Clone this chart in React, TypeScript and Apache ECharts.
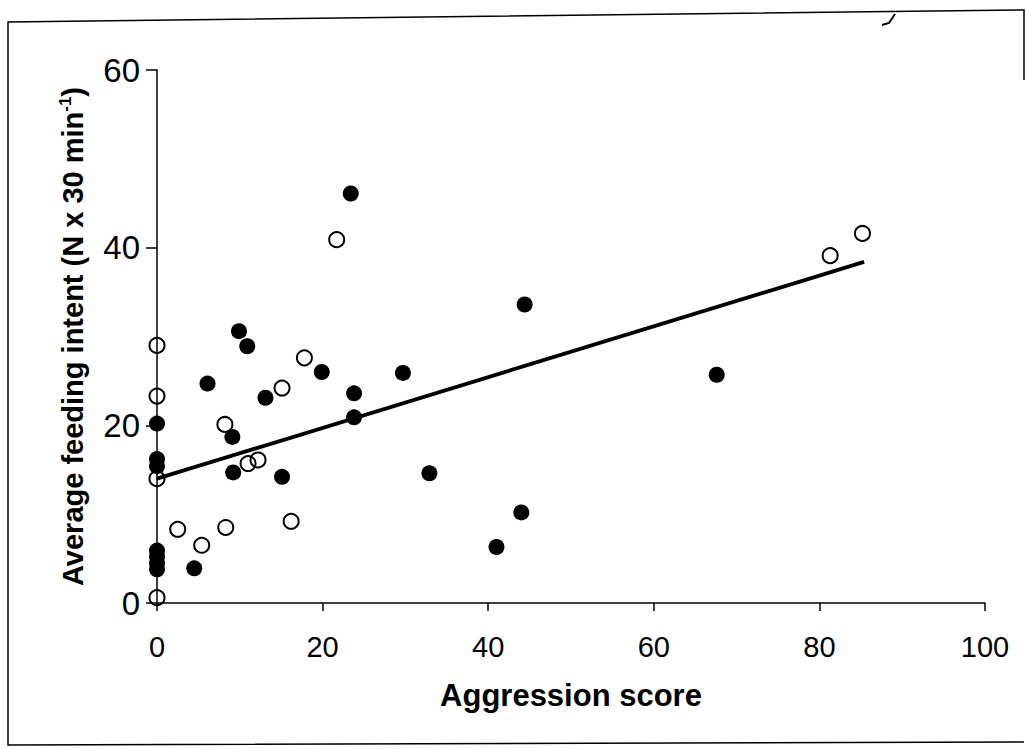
import React, { useEffect, useRef } from "react";
import * as echarts from "echarts";

// Open circles (one group)
const openX = [0, 0, 0, 0, 17.8, 15.1, 8.2, 11.0, 12.2, 16.2, 2.5, 8.3, 5.4, 21.7, 81.3, 85.2];
const openY = [29.0, 23.3, 14.0, 0.6, 27.6, 24.2, 20.1, 15.7, 16.1, 9.2, 8.3, 8.5, 6.5, 40.9, 39.1, 41.6];

// Filled circles (other group)
const filledX = [0, 0, 0, 0, 0, 0, 0, 9.9, 10.9, 19.9, 29.7, 6.1, 13.1, 23.8, 23.8, 9.1, 9.2, 15.1, 32.9, 44.0, 41.0, 4.5, 23.4, 44.4, 67.6];
const filledY = [20.2, 16.2, 15.4, 5.9, 5.2, 4.5, 3.8, 30.6, 28.9, 26.0, 25.9, 24.7, 23.1, 23.6, 20.9, 18.7, 14.7, 14.2, 14.6, 10.2, 6.3, 3.9, 46.1, 33.6, 25.7];

// Regression line endpoints
const fitX = [0, 85.4];
const fitY = [14.0, 38.4];

const xTicks = [0, 20, 40, 60, 80, 100];
const yTicks = [0, 20, 40, 60];

const FONT = "'Liberation Sans', Arial, Helvetica, sans-serif";

export default function App() {
  const ref = useRef<HTMLDivElement>(null);

  useEffect(() => {
    if (!ref.current) return;
    const chart = echarts.init(ref.current, null, { renderer: "svg" });
    const zip = (xs: number[], ys: number[]) => xs.map((x, i) => [x, ys[i]]);
    chart.setOption({
      animation: false,
      backgroundColor: "#ffffff",
      grid: { left: 157, right: 41, top: 70, bottom: 146, containLabel: false },
      xAxis: {
        type: "value",
        min: xTicks[0],
        max: xTicks[xTicks.length - 1],
        interval: 20,
        name: "Aggression score",
        nameLocation: "middle",
        nameGap: 77,
        nameTextStyle: { fontFamily: FONT, fontSize: 31, fontWeight: "bold", color: "#000" },
        axisLine: { show: true, onZero: false, lineStyle: { color: "#000", width: 1.5 } },
        axisTick: { show: true, length: 8, lineStyle: { color: "#000", width: 1.5 } },
        axisLabel: { fontFamily: FONT, fontSize: 29, color: "#000", margin: 29 },
        splitLine: { show: false },
      },
      yAxis: {
        type: "value",
        min: yTicks[0],
        max: yTicks[yTicks.length - 1],
        interval: 20,
        name: "Average feeding intent (N x 30 min{sup|-1})",
        nameLocation: "middle",
        nameGap: 69,
        nameTextStyle: {
          fontFamily: FONT,
          fontSize: 29,
          fontWeight: "bold",
          color: "#000",
          rich: {
            sup: { fontFamily: FONT, fontSize: 17, fontWeight: "bold", color: "#000", verticalAlign: "top", padding: [0, 0, 14, 0] },
          },
        },
        axisLine: { show: true, onZero: false, lineStyle: { color: "#000", width: 1.5 } },
        axisTick: { show: true, length: 11, lineStyle: { color: "#000", width: 1.5 } },
        axisLabel: { fontFamily: FONT, fontSize: 33, color: "#000", margin: 17 },
        splitLine: { show: false },
      },
      graphic: [
        {
          type: "polyline",
          shape: { points: [[1024, 80], [1024, 10], [8, 22], [8, 745], [1024, 742]] },
          style: { stroke: "#000", lineWidth: 1.5, fill: "none" },
          silent: true,
        },
        {
          type: "polyline",
          shape: { points: [[882, 25], [889, 23], [895, 14]] },
          style: { stroke: "#000", lineWidth: 2, fill: "none" },
          silent: true,
        },
      ],
      series: [
        {
          type: "line",
          data: zip(fitX, fitY),
          showSymbol: false,
          symbol: "none",
          lineStyle: { color: "#000", width: 3.8 },
          z: 3,
        },
        {
          type: "scatter",
          data: zip(openX, openY),
          symbol: "circle",
          symbolSize: 15,
          itemStyle: { color: "rgba(255,255,255,0)", borderColor: "#000", borderWidth: 2, opacity: 1 },
          z: 4,
        },
        {
          type: "scatter",
          data: zip(filledX, filledY),
          symbol: "circle",
          symbolSize: 16,
          itemStyle: { color: "#000", opacity: 1 },
          z: 5,
        },
      ],
    });
    return () => chart.dispose();
  }, []);

  return (
    <div
      ref={ref}
      style={{ position: "fixed", left: 0, top: 0, width: 1026, height: 749, background: "#fff" }}
    />
  );
}
